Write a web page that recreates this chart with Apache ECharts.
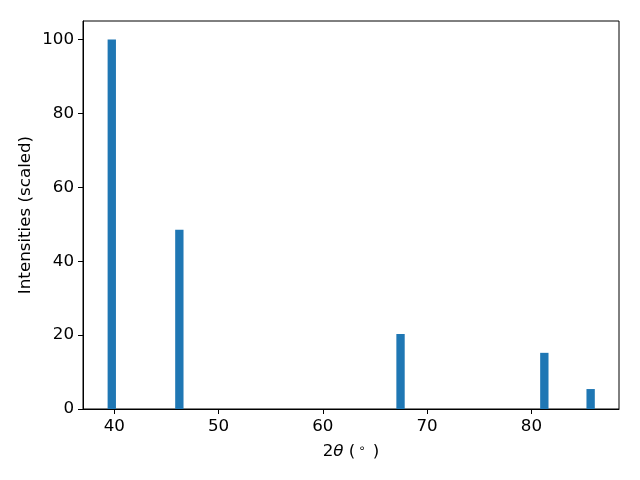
<!DOCTYPE html>
<html>
<head>
<meta charset="utf-8">
<script src="https://cdn.jsdelivr.net/npm/echarts@6/dist/echarts.min.js"></script>
<style>
html,body{margin:0;padding:0;background:#fff;}
#chart{width:640px;height:480px;}
</style>
</head>
<body>
<div id="chart"></div>
<script>
// Peak positions (2θ, degrees) and scaled intensities
const twoTheta = [39.76, 46.24, 67.45, 81.24, 85.68];
const intensities = [100, 48.5, 20.3, 15.2, 5.4];
const barWidthDeg = 0.8;
const xTicks = [40, 50, 60, 70, 80];
const yTicks = [0, 20, 40, 60, 80, 100];

const data = twoTheta.map((t, i) => [t, intensities[i]]);
const font = 'DejaVu Sans';
const fs = 16.7;

const chart = echarts.init(document.getElementById('chart'), null, {renderer: 'canvas'});
chart.setOption({
  animation: false,
  backgroundColor: '#fff',
  textStyle: {fontFamily: font},
  grid: {left: 83, right: 21, top: 21, bottom: 71, show: true, borderColor: '#000', borderWidth: 1, backgroundColor: 'transparent'},
  xAxis: {
    type: 'value', min: 37.0, max: 88.4,
    axisLine: {show: true, lineStyle: {color: '#000', width: 1}},
    axisTick: {show: true, length: 5, lineStyle: {color: '#000'}, customValues: xTicks},
    axisLabel: {color: '#000', fontSize: fs, fontFamily: font, margin: 9, customValues: xTicks},
    splitLine: {show: false},
    name: '{n|2}{i|θ}{n| (}{s|∘}{n| )}',
    nameLocation: 'middle', nameGap: 34, nameMoveOverlap: false,
    nameTextStyle: {
      color: '#000', fontSize: fs, fontFamily: font,
      rich: {
        n: {fontSize: fs, fontFamily: font, color: '#000'},
        i: {fontSize: fs, fontFamily: font, fontStyle: 'italic', color: '#000'},
        s: {fontSize: 11.5, fontFamily: font, color: '#000', verticalAlign: 'top', padding: [0, 2, 6, 3]}
      }
    }
  },
  yAxis: {
    type: 'value', min: 0, max: 105,
    axisLine: {show: true, lineStyle: {color: '#000', width: 1}},
    axisTick: {show: true, length: 5, lineStyle: {color: '#000'}, customValues: yTicks},
    axisLabel: {color: '#000', fontSize: fs, fontFamily: font, margin: 9, customValues: yTicks},
    splitLine: {show: false},
    name: 'Intensities (scaled)',
    nameLocation: 'middle', nameGap: 49, nameMoveOverlap: false,
    nameTextStyle: {color: '#000', fontSize: fs, fontFamily: font}
  },
  series: [{
    type: 'custom',
    data: data,
    encode: {x: 0, y: 1},
    renderItem: function (params, api) {
      const x = api.value(0), y = api.value(1);
      const p0 = api.coord([x - barWidthDeg / 2, y]);
      const p1 = api.coord([x + barWidthDeg / 2, 0]);
      return {
        type: 'rect',
        shape: {x: p0[0], y: p0[1], width: p1[0] - p0[0], height: p1[1] - p0[1]},
        style: {fill: '#1f77b4'}
      };
    }
  }]
});
</script>
</body>
</html>
